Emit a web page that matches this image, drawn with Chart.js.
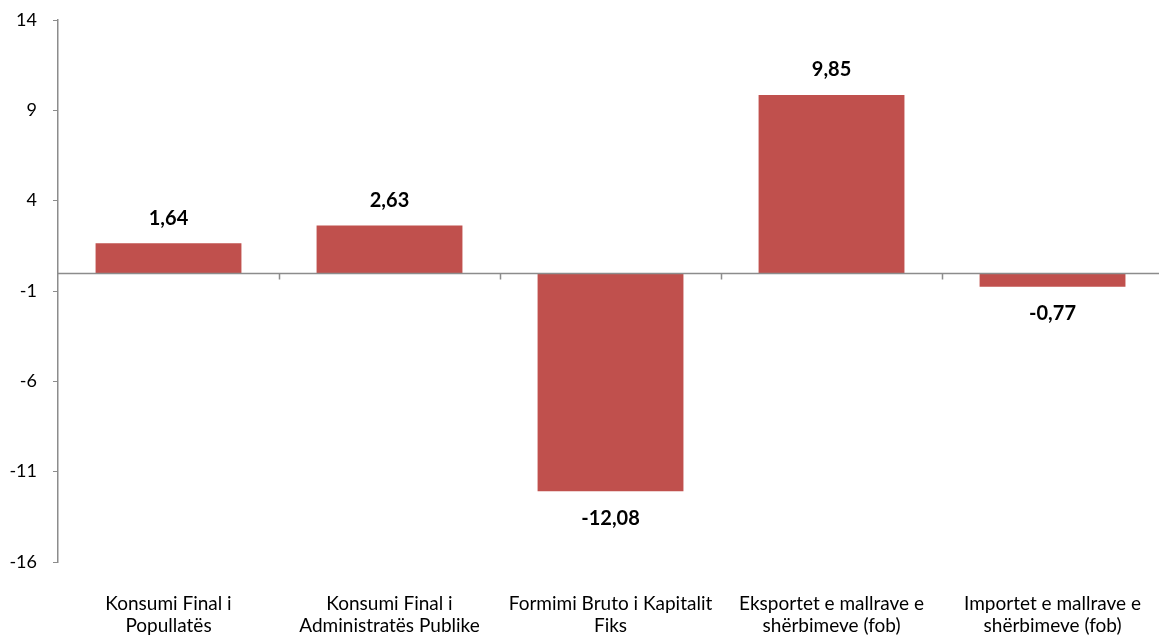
<!DOCTYPE html>
<html>
<head>
<meta charset="utf-8">
<script src="https://cdn.jsdelivr.net/npm/chart.js@4.4.1/dist/chart.umd.min.js"></script>
<style>
  html, body { margin: 0; padding: 0; background: #fff; overflow: hidden; }
  #wrap { width: 1171px; height: 638px; position: relative; }
</style>
</head>
<body>
<div id="wrap"><canvas id="myChart"></canvas></div>
<script>
const categories = [
    ["Konsumi Final i", "Popullatës"],
    ["Konsumi Final i", "Administratës Publike"],
    ["Formimi Bruto i Kapitalit", "Fiks"],
    ["Eksportet e mallrave e", "shërbimeve (fob)"],
    ["Importet e mallrave e", "shërbimeve (fob)"]
];
const values = [1.64, 2.63, -12.08, 9.85, -0.77];
const yTicks = [14, 9, 4, -1, -6, -11, -16];

const fontName = "Lato, 'Open Sans', sans-serif";

// horizontal line at zero with small tick marks between categories
const zeroLine = {
    id: 'zeroLine',
    afterDatasetsDraw(chart) {
        const c = chart.ctx, x = chart.scales.x, y = chart.scales.y;
        const y0 = Math.round(y.getPixelForValue(0)) + 0.5;
        c.save();
        c.strokeStyle = '#8c8c8c';
        c.lineWidth = 1.5;
        c.beginPath();
        c.moveTo(chart.chartArea.left, y0);
        c.lineTo(chart.chartArea.right, y0);
        for (let i = 0; i < categories.length - 1; i++) {
            const bx = Math.round((x.getPixelForValue(i) + x.getPixelForValue(i + 1)) / 2) + 0.5;
            c.moveTo(bx, y0);
            c.lineTo(bx, y0 + 6);
        }
        c.stroke();
        c.restore();
    }
};

// value labels above / below each bar
const valueLabels = {
    id: 'valueLabels',
    afterDatasetsDraw(chart) {
        const c = chart.ctx;
        const meta = chart.getDatasetMeta(0);
        c.save();
        c.font = "bold 20px " + fontName;
        c.fillStyle = '#000';
        c.textAlign = 'center';
        c.textBaseline = 'middle';
        meta.data.forEach(function(bar, i) {
            const v = values[i];
            const txt = v.toFixed(2).replace('.', ',');
            const ty = v >= 0 ? bar.y - 25 : bar.y + 27;
            c.fillText(txt, bar.x, ty);
        });
        c.restore();
    }
};

new Chart(document.getElementById('myChart'), {
    type: 'bar',
    data: {
        labels: categories,
        datasets: [{
            data: values,
            backgroundColor: '#C0504D',
            barPercentage: 0.66,
            categoryPercentage: 1
        }]
    },
    options: {
        responsive: true,
        maintainAspectRatio: false,
        animation: false,
        layout: { padding: { top: 0, left: 6, right: 0, bottom: 0 } },
        scales: {
            x: {
                grid: { display: false, drawTicks: false },
                border: { display: false },
                afterFit(axis) { axis.height = 76; },
                ticks: {
                    color: '#000',
                    font: { family: fontName, size: 19, lineHeight: 1.2 },
                    padding: 30,
                    maxRotation: 0,
                    autoSkip: false
                }
            },
            y: {
                min: -16,
                max: 14,
                afterBuildTicks(axis) {
                    axis.ticks = yTicks.map(v => ({ value: v }));
                },
                afterFit(axis) {
                    axis.width = 52;
                    axis.paddingTop = 20;
                    axis.paddingBottom = 10;
                },
                grid: {
                    drawOnChartArea: false,
                    drawTicks: true,
                    tickLength: 5,
                    color: '#8c8c8c'
                },
                border: { display: true, color: '#8c8c8c', width: 1.5 },
                ticks: {
                    color: '#000',
                    font: { family: fontName, size: 18 },
                    padding: 16
                }
            }
        },
        plugins: {
            legend: { display: false },
            tooltip: { enabled: false }
        }
    },
    plugins: [zeroLine, valueLabels]
});
</script>
</body>
</html>
